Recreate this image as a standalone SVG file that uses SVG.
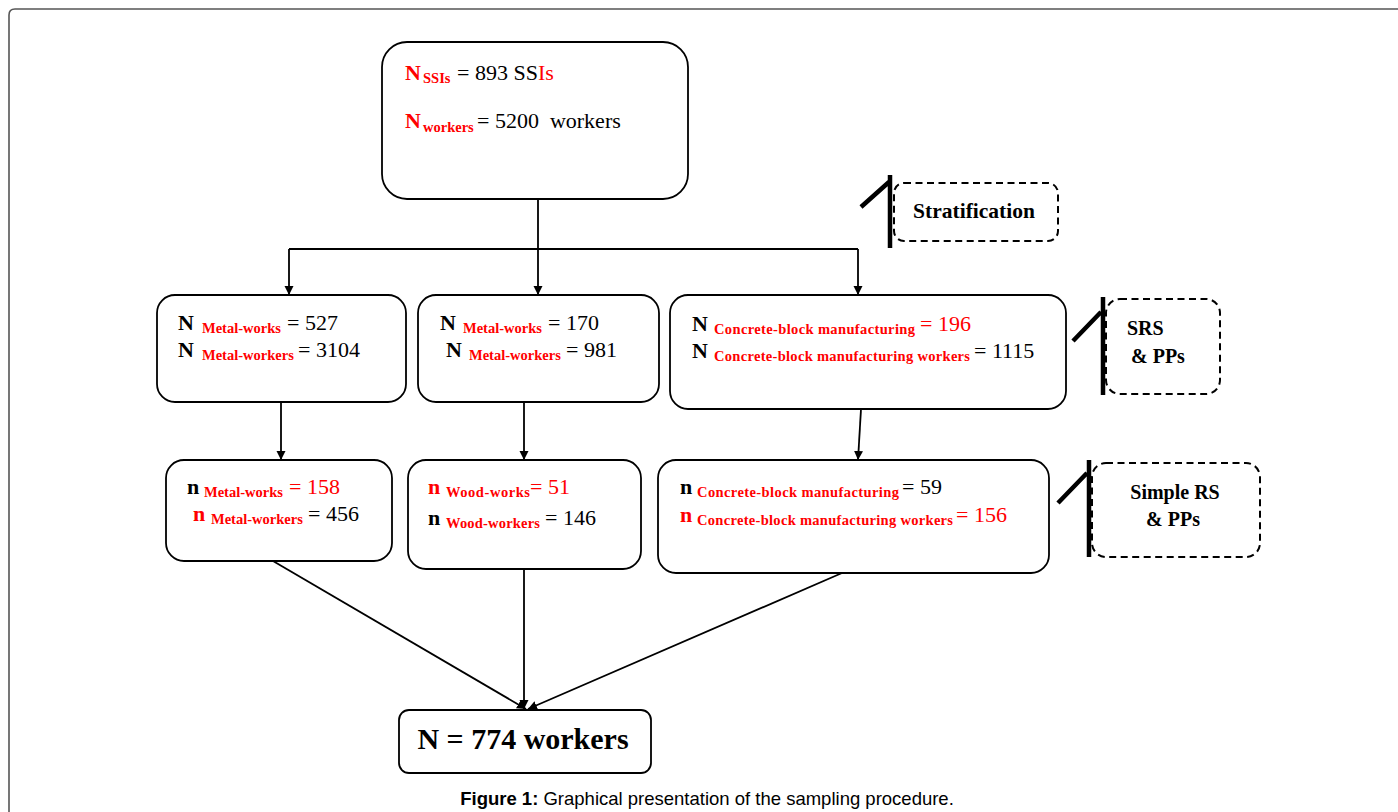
<svg xmlns="http://www.w3.org/2000/svg" width="1398" height="812" viewBox="0 0 1398 812">
<defs>
<marker id="ah" markerUnits="userSpaceOnUse" markerWidth="10" markerHeight="10" refX="9" refY="5" orient="auto">
<path d="M0,0.5 L9,5 L0,9.5 Z" fill="#000"/>
</marker>
<style>
.box{fill:#fff;stroke:#000;stroke-width:1.8}
.dbox{fill:#fff;stroke:#000;stroke-width:2;stroke-dasharray:7 4.5}
.bar{stroke:#000;stroke-width:4.5;fill:none}
.con{stroke:#000;stroke-width:1.8;fill:none;marker-end:url(#ah)}
.conp{stroke:#000;stroke-width:1.8;fill:none}
text{font-family:"Liberation Serif","Times New Roman",serif;fill:#000}
.m{font-size:22px}
.b{font-weight:bold}
.s{font-size:14.5px;font-weight:bold;fill:#f00}
.r{fill:#f00}
.side{font-size:20px;font-weight:bold}
.cap{font-family:"Liberation Sans",Arial,sans-serif;font-size:18.5px}
</style>
</defs>
<rect width="1398" height="812" fill="#fff"/>
<path d="M9,840 V15 Q9,9 15,9 H1410" fill="none" stroke="#555" stroke-width="1.6"/>

<g id="connectors">
<path class="conp" d="M538,199 V249 M289,249 H858"/>
<path class="con" d="M538,249 V295"/>
<path class="con" d="M289,249 V295"/>
<path class="con" d="M858,249 V295"/>
<path class="con" d="M281,402 V460"/>
<path class="con" d="M524,402 V460"/>
<path class="con" d="M861,409 L858,460"/>
<path class="con" d="M273,561 L526,709"/>
<path class="con" d="M524,569 V709"/>
<path class="con" d="M842,573 L528,709"/>
</g>

<g id="n-total">
<rect class="box" x="382" y="42" width="306" height="157" rx="25"/>
<text class="m"><tspan x="405" y="80" class="b r">N</tspan><tspan x="423" y="83" class="s">SSIs</tspan><tspan x="457" y="80">= 893 SS</tspan><tspan class="r">Is</tspan></text>
<text class="m"><tspan x="405" y="128" class="b r">N</tspan><tspan x="423" y="132" class="s">workers</tspan><tspan x="477" y="128">= 5200&#160;&#160;workers</tspan></text>
</g>

<g id="n-metal">
<rect class="box" x="157" y="295" width="249" height="107" rx="18"/>
<text class="m"><tspan x="178" y="330" class="b">N</tspan><tspan x="202" y="333" class="s">Metal-works</tspan><tspan x="287" y="330">= 527</tspan></text>
<text class="m"><tspan x="178" y="357" class="b">N</tspan><tspan x="202" y="360" class="s">Metal-workers</tspan><tspan x="298" y="357">= 3104</tspan></text>
</g>

<g id="n-wood">
<rect class="box" x="418" y="295" width="241" height="107" rx="18"/>
<text class="m"><tspan x="440" y="330" class="b">N</tspan><tspan x="463" y="333" class="s">Metal-works</tspan><tspan x="548" y="330">= 170</tspan></text>
<text class="m"><tspan x="446" y="357" class="b">N</tspan><tspan x="469" y="360" class="s">Metal-workers</tspan><tspan x="566" y="357">= 981</tspan></text>
</g>

<g id="n-concrete">
<rect class="box" x="670" y="295" width="396" height="114" rx="18"/>
<text class="m"><tspan x="692" y="331" class="b">N</tspan><tspan x="714" y="334" class="s" textLength="201">Concrete-block manufacturing</tspan><tspan x="920" y="331" class="r">= 196</tspan></text>
<text class="m"><tspan x="692" y="358" class="b">N</tspan><tspan x="714" y="361" class="s" textLength="256">Concrete-block manufacturing workers</tspan><tspan x="974" y="358">= 1115</tspan></text>
</g>

<g id="s-metal">
<rect class="box" x="166" y="460" width="226" height="101" rx="18"/>
<text class="m"><tspan x="187" y="494" class="b">n</tspan><tspan x="204" y="497" class="s">Metal-works</tspan><tspan x="289" y="494" class="r">= 158</tspan></text>
<text class="m"><tspan x="193" y="521" class="b r">n</tspan><tspan x="211" y="524" class="s">Metal-workers</tspan><tspan x="308" y="521">= 456</tspan></text>
</g>

<g id="s-wood">
<rect class="box" x="408" y="460" width="233" height="109" rx="18"/>
<text class="m"><tspan x="428" y="494" class="b r">n</tspan><tspan x="446" y="497" class="s" textLength="84">Wood-works</tspan><tspan x="530" y="494" class="r">= 51</tspan></text>
<text class="m"><tspan x="428" y="525" class="b">n</tspan><tspan x="446" y="528" class="s" textLength="94">Wood-workers</tspan><tspan x="545" y="525">= 146</tspan></text>
</g>

<g id="s-concrete">
<rect class="box" x="658" y="460" width="391" height="113" rx="18"/>
<text class="m"><tspan x="680" y="494" class="b">n</tspan><tspan x="697" y="497" class="s" textLength="202">Concrete-block manufacturing</tspan><tspan x="902" y="494">= 59</tspan></text>
<text class="m"><tspan x="680" y="522" class="b r">n</tspan><tspan x="697" y="525" class="s" textLength="256">Concrete-block manufacturing workers</tspan><tspan x="956" y="522" class="r">= 156</tspan></text>
</g>

<g id="final">
<rect class="box" x="399" y="710" width="252" height="63" rx="10"/>
<text x="523" y="749" text-anchor="middle" style="font-size:30px;font-weight:bold">N = 774 workers</text>
</g>

<g id="stratification">
<path class="bar" d="M890,175 V248 M861,207 L889,182"/>
<rect class="dbox" x="894" y="183" width="164" height="58" rx="10"/>
<text class="side" x="974" y="218" text-anchor="middle" style="font-size:21.5px">Stratification</text>
</g>

<g id="srs">
<path class="bar" d="M1103,297 V395 M1073,341 L1101,312"/>
<rect class="dbox" x="1106" y="299" width="114" height="95" rx="14"/>
<text class="side" x="1127" y="335">SRS</text>
<text class="side" x="1131" y="363">&amp; PPs</text>
</g>

<g id="simple-rs">
<path class="bar" d="M1089,460 V557 M1058,503 L1087,473"/>
<rect class="dbox" x="1092" y="463" width="168" height="94" rx="14"/>
<text class="side" x="1175" y="499" text-anchor="middle">Simple RS</text>
<text class="side" x="1173" y="526" text-anchor="middle">&amp; PPs</text>
</g>

<text class="cap" x="707" y="805" text-anchor="middle"><tspan font-weight="bold">Figure 1:</tspan> Graphical presentation of the sampling procedure.</text>
</svg>
